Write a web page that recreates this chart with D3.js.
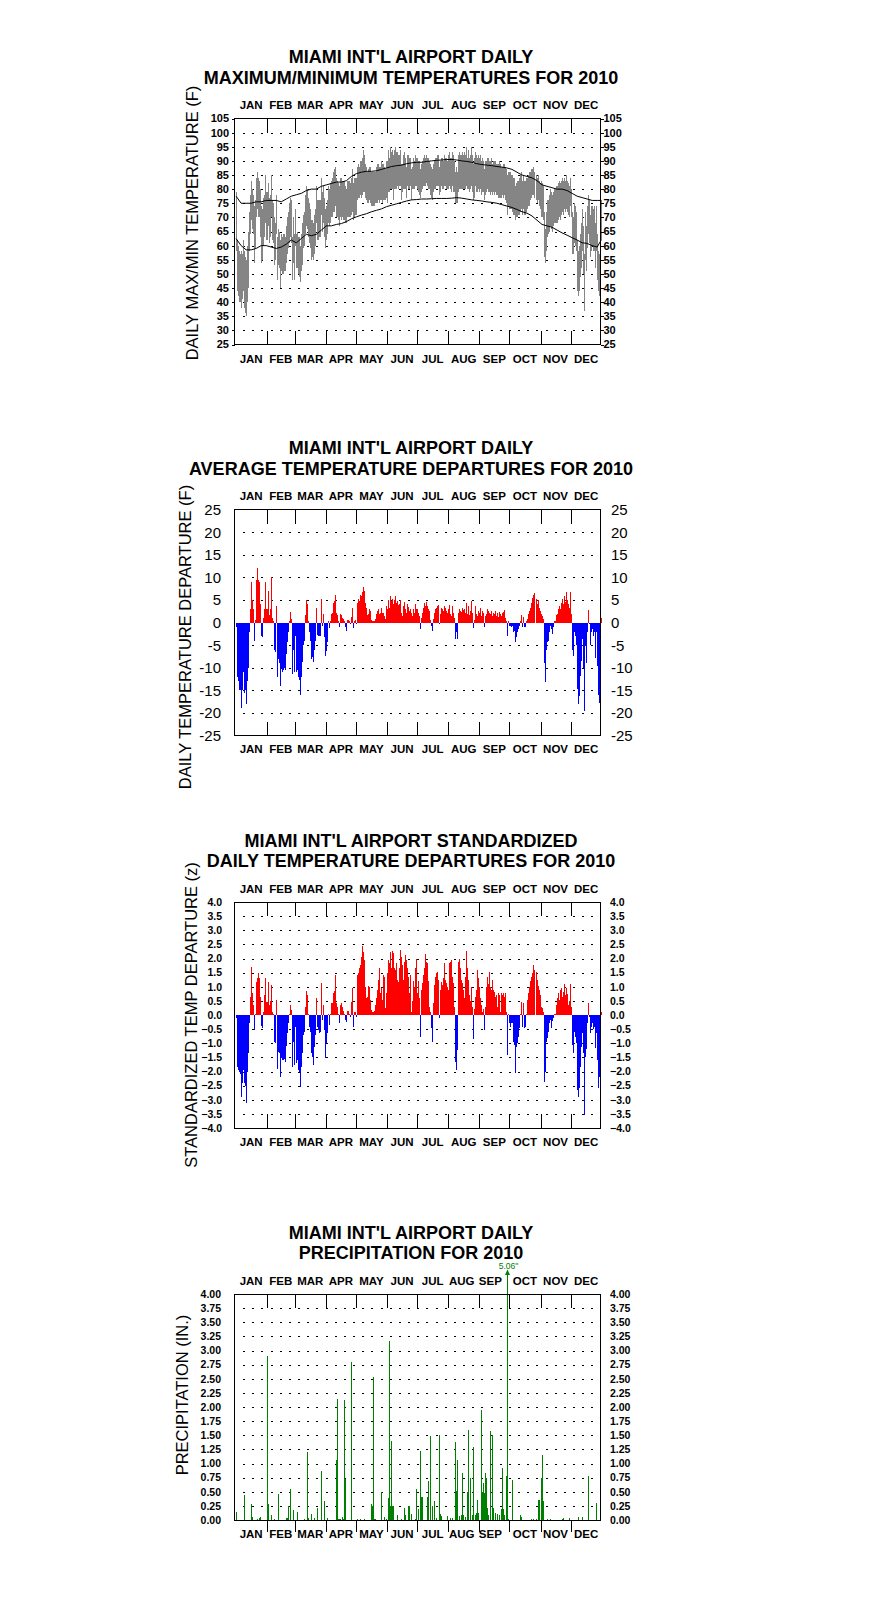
<!DOCTYPE html>
<html><head><meta charset="utf-8">
<script src="https://cdn.jsdelivr.net/npm/d3@7"></script>
<style>
body{margin:0;background:#fff}
svg{display:block}
text{font-family:"Liberation Sans",Arial,Helvetica,sans-serif;fill:#000}
</style>
</head><body>
<svg id="chart" width="876" height="1606"></svg>
<script>
// ---------- categories / ticks ----------
const monthNames = ["JAN","FEB","MAR","APR","MAY","JUN","JUL","AUG","SEP","OCT","NOV","DEC"];
const monthStart = [0,31,59,90,120,151,181,212,243,273,304,334,365];
const tempTicks = [25,30,35,40,45,50,55,60,65,70,75,80,85,90,95,100,105];
const depTicks = [-25,-20,-15,-10,-5,0,5,10,15,20,25];
const zTicks = [-4,-3.5,-3,-2.5,-2,-1.5,-1,-0.5,0,0.5,1,1.5,2,2.5,3,3.5,4];
const precipTicks = [0,0.25,0.5,0.75,1,1.25,1.5,1.75,2,2.25,2.5,2.75,3,3.25,3.5,3.75,4];

// ---------- normals (every 5 days) ----------
const normDays = [0,5,10,15,20,25,30,35,40,45,50,55,60,65,70,75,80,85,90,95,100,105,110,115,120,125,130,135,140,145,150,155,160,165,170,175,180,185,190,195,200,205,210,215,220,225,230,235,240,245,250,255,260,265,270,275,280,285,290,295,300,305,310,315,320,325,330,335,340,345,350,355,360,364];
const normMax = [77.5,75,75,75,75.5,75.5,76,76,76,75.5,76.5,77.5,78,78.5,79.5,80,80,81,81.5,82,82.5,82.5,83,84.5,85.5,86,86.3,86.3,86.5,87,87.5,88,88.3,88.5,89,89.3,89.5,89.5,89.8,90,90.2,90.3,90.5,90.5,90.3,90,89.8,89.5,89,88.7,88.5,88.3,88,87.8,87.5,87,86,85,84.5,84,83,81.5,81,80.5,80,80,79.5,78.5,77.5,77,76.5,76,76,76];
const normMin = [62.5,60,58.5,58.5,59,60,60,59.5,59,59.5,60.5,62,61,62.5,64,63.5,64,65.5,67,67,67.5,67.8,68.5,69.5,70.2,70.8,71.3,72,72.5,73,73.8,74.3,74.8,75.3,75.8,76.2,76.3,76.5,76.5,76.6,76.7,76.7,76.7,76.8,77,76.8,76.5,76.2,76,75.8,75.5,75.3,75,74.5,74,73.5,72.8,72,71.5,70.5,69,67.5,67,66.5,65.5,64.5,63.7,62.8,62,61,60.8,60,59.5,62];

// ---------- daily max / min temperatures (F) ----------
const tMax = [
79,62,60,58,57,58,57,62,58,56,55,60,65,72,78,83,80,78,74,76,84,86,84,83,80,74,73,77,78,85,79,
79,82,77,78,85,76,75,70,68,78,63,66,65,62,64,63,64,64,63,67,70,72,75,77,76,63,70,64,
73,64,65,63,63,60,64,68,71,72,78,81,80,77,75,73,69,69,68,71,73,81,76,76,76,76,84,79,81,77,73,
74,76,81,80,82,83,84,86,87,88,84,83,82,81,84,84,83,83,83,81,80,83,83,83,82,84,87,82,84,84,
84,88,89,88,90,90,91,94,92,89,88,86,87,88,88,86,86,86,86,86,88,89,89,88,88,90,89,89,88,87,90,
90,94,91,95,93,94,92,94,95,93,93,92,92,94,89,89,92,93,91,88,92,92,91,91,87,88,91,90,92,91,
91,90,90,87,89,90,91,92,91,92,91,91,90,89,88,87,89,90,91,91,92,92,88,90,91,91,90,92,91,91,90,
92,93,91,91,93,92,90,86,88,86,92,93,92,92,93,92,93,92,95,91,94,91,92,95,92,89,91,93,92,91,92,
91,92,90,91,90,87,90,90,91,91,90,90,91,89,90,90,90,89,89,89,90,89,88,88,89,89,88,87,85,86,
86,86,85,85,84,84,81,82,83,83,84,85,86,83,85,83,83,84,84,85,86,86,87,87,88,86,85,84,85,83,82,
83,82,81,72,66,72,76,76,78,80,79,78,79,80,80,81,81,82,83,82,83,84,83,84,83,85,83,82,81,84,
80,72,70,75,74,72,62,58,60,64,68,73,67,57,72,67,74,78,76,71,74,74,73,74,68,74,64,58,57,63,76];
const tMin = [
58,44,42,40,40,38,41,44,38,36,35,40,45,58,64,69,66,64,54,59,70,73,70,70,63,54,55,60,63,68,62,
62,67,61,63,70,62,61,53,55,64,48,53,52,45,51,50,50,51,51,54,57,59,61,63,61,48,54,48,
60,52,52,50,49,47,51,53,59,60,64,67,66,63,61,59,55,56,55,57,60,68,62,62,63,63,71,65,68,63,59,
62,64,68,67,68,70,70,72,72,74,70,70,69,67,70,69,70,69,69,68,68,70,70,70,70,71,72,69,70,71,
71,76,77,77,78,77,78,79,79,77,76,75,75,76,75,74,74,74,74,75,75,75,76,75,76,76,75,76,76,76,77,
75,79,79,80,80,80,76,80,80,80,81,80,81,81,76,79,80,80,80,77,81,80,80,81,76,80,80,80,81,81,
80,79,78,77,79,80,81,81,81,82,81,80,80,78,77,76,79,80,80,81,81,81,78,79,81,80,80,81,81,80,80,
80,81,80,79,81,79,79,75,75,75,79,80,80,80,80,80,80,80,81,80,80,79,80,81,79,76,77,81,79,79,80,
79,80,78,79,79,76,78,79,80,79,79,78,79,78,79,78,79,78,78,77,77,77,77,78,77,78,76,75,71,74,
73,73,73,72,71,71,69,70,70,71,71,72,73,71,73,71,71,72,73,74,74,76,77,78,78,77,76,75,76,74,73,
70,70,69,56,54,58,63,64,65,67,66,65,67,68,68,68,68,69,70,69,71,72,71,73,72,73,72,71,70,74,
70,57,57,61,60,58,44,42,44,49,52,58,50,37,55,51,59,64,61,56,58,60,58,58,52,58,48,44,42,50,62];

// ---------- daily average temperature departures (F) ----------
const depF = [
-1,-12,-13,-15,-15,-19,-15,-11,-15.5,-15,-18,-13,-10,-2,3,9,5,3,-4,0.5,9.5,12,9.5,9,4,-3,-3.3,1,3,9,3,
3,7,1.6,3,10,1,0.3,-6,-6.5,3.7,-12,-8,-9,-14,-10,-11,-10.5,-10,-10.5,-7,-4.3,-2,0.3,2.4,0.7,-11.5,-6,-11,
-3,-11,-10.5,-12,-12.7,-16,-12,-8.8,-5,-4,1.6,5,4,0.3,-2.2,-4,-8,-7.7,-8.7,-6,-4,3.3,-2.8,-3,-3,-3,5.3,-0.7,1.8,-3.3,-7.4,
-6.3,-4.4,0.3,-1.3,0.3,1.8,2.2,4.4,4.8,6,2.2,1.6,0.3,-1.1,1.8,1.6,1.1,0.7,0.3,-1,-1.9,0.6,0.6,0.3,-0.4,1.3,3.3,-1.3,0.3,0.5,
-0.4,4.4,5.3,4.8,6,5.8,6.7,7.8,7,4.4,3.3,1.6,1.8,3,2.6,0.6,0.3,0.3,0.3,0.7,1.8,2.6,3,1.8,2.2,3.3,2,2.2,1.5,0.7,3.7,
3,5,3.3,5.8,4.8,5.3,4,5,5.8,4.4,4.8,3.8,4,5,2.2,1.5,3.7,4.5,3,2,4,3.5,2.5,3,2,1.5,3,2,4,3,
3,2,1.5,-1.5,1,2.2,3.3,4.4,3.7,4.6,3.7,3,2.6,0.5,-0.7,-1.8,0.7,2.2,3,3.3,3.7,3.9,-0.4,1.8,3.3,3,2.6,3.7,3.2,2.6,2.2,
3,3.9,1.8,1.5,3.7,2,1,-3.7,-2,-3.7,2.2,3,2.6,2.4,3.3,2.8,3,2.2,4.4,1.8,3.7,1.6,2.5,4.8,2,-1.3,0.5,3.7,1.8,1.5,2.6,
2.2,3.1,1.5,2.5,2,-1,1.5,1.8,3,2.6,2.2,1.8,2.6,1.5,2.2,1.8,2.6,1.5,2,1.3,2.3,1.8,1.5,2,2.4,2.8,1,0.3,-3,0.3,
-0.7,-0.7,-1,-0.7,-2.2,-1.9,-4.4,-3.3,-2.2,-1.5,-0.7,0.3,1.6,-1.1,1.3,-1.1,-0.9,0.3,0.7,1.8,2.6,3.3,4.4,5.5,6,6.5,5.2,4,5,3.3,2.6,
1.8,1.5,0.7,-8.9,-13.2,-6,-4.4,-4,-2.2,-0.7,-1.5,-2.6,-1,0.3,0.3,1.6,1.8,2.9,3.7,2.9,4.4,5.2,4.1,5.9,4.5,6.8,5,4,3.3,6.8,
1.8,-6,-7.4,-2.2,-3,-5,-14.8,-18,-16.3,-11.8,-8.5,-3.7,-10,-19.6,-5.2,-9,-2,2.8,-0.4,-5,-2.2,-1.5,-3,-2.2,-7.8,-2,-9.6,-16,-17.8,-10,1];

// ---------- standardized departures (z) ----------
const depZ = [
-0.12,-1.83,-1.95,-2.0,-2.1,-2.9,-2.4,-1.95,-2.4,-2.5,-3.1,-2.0,-1.36,-0.3,0.65,1.7,0.77,0.35,-0.53,0.05,1.18,1.3,1.5,1.3,0.65,-0.4,-0.47,0.12,0.7,1.3,0.47,
0.47,1.18,0.35,0.5,1.06,0.12,0.05,-0.94,-1.0,0.53,-1.9,-1.3,-1.36,-2.2,-1.53,-1.6,-1.6,-1.55,-1.65,-1.1,-0.65,-0.3,0.05,0.35,0.18,-1.83,-0.94,-1.77,
-0.41,-1.7,-1.6,-1.95,-2.0,-2.54,-1.83,-1.36,-0.71,-0.6,0.27,0.85,0.71,0.05,-0.41,-0.59,-1.36,-1.47,-1.77,-1.12,-0.7,0.59,-0.41,-0.53,-0.63,-0.6,1.15,-0.18,0.35,-0.53,-1.53,
-1.0,-0.65,0.05,-0.35,0.05,0.44,0.41,0.77,0.85,1.42,0.41,0.3,0.05,-0.3,0.35,0.44,0.3,0.15,0.05,-0.18,-0.24,0.15,0.15,0.05,-0.06,0.47,0.94,-0.41,0.12,0.12,
-0.08,1.42,1.47,1.65,1.77,2.06,2.44,2.24,1.95,1.0,0.59,0.65,1.03,0.98,0.53,0.18,0.1,0.1,0.15,0.35,0.59,0.88,1.24,1.65,0.77,0.94,0.53,1.42,1.36,0.24,0.77,
1.47,1.95,1.83,2.24,1.65,2.28,2.18,1.65,1.59,1.83,1.24,1.18,1.65,2.3,2.06,1.77,1.24,1.89,2.12,1.95,1.65,1.36,0.77,1.42,0.12,0.5,1.2,1.0,1.65,2.0,
0.77,1.2,0.6,-0.77,0.9,1.12,1.41,1.65,2.16,1.89,1.83,1.2,0.3,0.1,-0.47,-0.94,0.41,1.06,1.36,1.47,1.53,1.24,-0.12,0.88,1.18,1.06,1.3,1.83,1.24,1.12,1.0,
0.88,1.83,1.89,1.95,1.36,1.12,0.3,-1.65,-1.95,-1.24,1.89,2.0,1.65,1.24,1.12,0.88,0.59,1.36,2.28,1.65,1.24,0.71,0.5,1.0,0.3,-0.86,0.2,0.65,0.88,1.6,1.3,
1.0,0.59,0.35,0.1,0.2,-0.53,0.3,1.0,1.36,1.1,1.53,1.0,0.88,1.24,0.88,0.83,0.65,0.71,0.3,0.77,0.71,0.12,0.77,0.71,0.77,0.65,0.77,0.1,-1.42,0.05,
-0.3,-0.41,-0.3,-0.3,-0.94,-1.06,-2.06,-1.12,-1.0,-0.77,-0.47,0.05,0.47,-0.41,0.44,-0.47,-0.41,0.05,0.53,0.77,1.0,1.2,1.36,1.5,1.77,1.59,1.53,1.24,1.03,0.88,0.71,
0.3,0.24,0.1,-2.36,-2.0,-0.94,-0.83,-0.59,-0.3,-0.18,-0.47,-0.2,-0.1,0.05,0.05,0.35,0.59,0.77,0.53,0.88,0.94,0.65,0.83,1.1,0.7,0.94,0.75,0.35,0.5,1.1,
0.3,-1.06,-1.36,-0.59,-0.77,-1.0,-2.65,-2.89,-2.6,-1.83,-1.12,-0.65,-1.36,-3.54,-1.47,-1.2,-0.3,0.41,-0.06,-0.65,-0.41,-0.3,-0.5,-0.41,-1.18,-0.65,-1.6,-2.6,-2.2,-1.65,0.12];

// ---------- precipitation (day of year index, inches) ----------
const precipDay = [0,8,15,16,21,23,24, 31,32,35,38,42,50,51,52,54,57, 61,68,71,72,75,78,81,85,88,
 91,100,101,102,103,104,106,107,108,109,115, 121,124,128,135,136,137,138,139,145,148,150,
 152,153,154,155,156,157,161,165,168,169,172,173,175,179,180,
 182,184,185,186,191,192,194,196,198,200,203,204,205,211,
 214,216,219,220,221,223,225,226,227,229,231,232,234,236,237,239,240,241,242,
 245,246,247,248,249,250,251,252,254,256,257,259,261,263,265,266,267,268,270,271,
 272,276,284,285,295,297,299,301,302,304,305,306, 310,313,325,326,332, 341,345,351,359];
const precipIn = [0.15,0.44,0.28,0.05,0.02,0.03,0.05, 2.9,0.28,0.09,0.01,0.46,0.03,0.03,0.24,0.55,0.17, 0.15,0.02,1.2,0.03,0.1,0.03,0.22,0.86,0.34,
 0.03,1.06,2.14,0.02,0.02,0.02,0.05,0.02,2.12,0.73,2.8, 0.01,0.02,0.02,0.28,0.25,2.53,0.02,0.02,0.5,0.05,0.02,
 0.39,3.17,0.24,1.39,0.24,0.24,0.09,0.02,0.22,0.09,0.25,0.25,0.1,0.02,0.54,
 0.2,1.22,0.4,0.4,0.4,0.69,1.49,0.24,0.34,0.03,1.5,0.1,0.07,0.07,
 0.03,0.03,1.38,0.52,1.06,0.07,0.09,0.83,0.09,0.06,0.5,1.6,0.74,0.09,1.29,0.09,0.13,0.35,0.13,
 1.95,0.5,0.66,0.47,0.83,0.74,0.21,0.09,1.58,1.5,0.21,0.12,0.1,0.09,0.2,0.92,0.2,0.09,0.78,5.06,
 0.02,0.71,0.09,0.05,0.02,0.02,0.02,0.35,0.35,0.74,1.15,0.34, 0.02,0.02,0.02,0.04,0.04, 0.05,0.06,0.77,0.3];

// ---------- drawing ----------
const svg = d3.select("#chart");
const x = d3.scaleLinear().domain([0, 365]).range([235.6, 601.7]);
const plotL = 234.5, plotR = 600.5;
const dayIdx = d3.range(tMax.length);

function drawPanel(p) {
  const g = svg.append("g");
  const y = d3.scaleLinear().domain(p.domain).range([p.bottom, p.top]);

  g.selectAll("text.title").data(p.title).join("text")
    .attr("class", "title")
    .attr("x", 411).attr("y", (d, i) => p.top - 55.5 + i * 20.5)
    .attr("text-anchor", "middle").attr("font-size", 18).attr("font-weight", "bold")
    .text(d => d);

  const mData = monthNames.map((m, i) => ({m, c: x((monthStart[i] + monthStart[i + 1]) / 2) + (p.monthShift ? (p.monthShift[i] || 0) : 0)}));
  [p.top - 9.5, p.bottom + p.bottomMonthOff].forEach(yy => {
    g.append("g").selectAll("text").data(mData).join("text")
      .attr("x", d => d.c).attr("y", yy)
      .attr("text-anchor", "middle").attr("font-size", 11.5).attr("font-weight", "bold")
      .text(d => d.m);
  });

  g.selectAll("line.grid").data(p.grid).join("line")
    .attr("class", "grid")
    .attr("x1", 243).attr("x2", 600)
    .attr("y1", d => Math.round(y(d)) + 0.5).attr("y2", d => Math.round(y(d)) + 0.5)
    .attr("stroke", "#000").attr("stroke-width", 1)
    .attr("stroke-dasharray", "2,7.17").attr("shape-rendering", "crispEdges");

  p.draw(g, y);

  g.append("rect")
    .attr("x", plotL).attr("y", p.top).attr("width", plotR - plotL).attr("height", p.bottom - p.top)
    .attr("fill", "none").attr("stroke", "#000").attr("stroke-width", 1).attr("shape-rendering", "crispEdges");

  const inner = monthStart.slice(1, 12);
  g.selectAll("line.mt").data(inner).join("line")
    .attr("x1", d => Math.round(x(d)) + 0.5).attr("x2", d => Math.round(x(d)) + 0.5)
    .attr("y1", p.top).attr("y2", p.top + 14)
    .attr("stroke", "#000").attr("shape-rendering", "crispEdges");
  g.selectAll("line.mb").data(inner).join("line")
    .attr("x1", d => Math.round(x(d)) + 0.5).attr("x2", d => Math.round(x(d)) + 0.5)
    .attr("y1", p.bottom).attr("y2", p.bottom + (p.bottomTicksOut ? 12 : -14))
    .attr("stroke", "#000").attr("shape-rendering", "crispEdges");

  if (p.sideTicks) {
    g.selectAll("line.st").data(p.ticks).join("line")
      .attr("x1", plotR).attr("x2", plotR + 3)
      .attr("y1", d => Math.round(y(d)) + 0.5).attr("y2", d => Math.round(y(d)) + 0.5)
      .attr("stroke", "#000").attr("shape-rendering", "crispEdges");
    g.selectAll("line.st2").data(p.ticks).join("line")
      .attr("x1", plotL - 3).attr("x2", plotL)
      .attr("y1", d => Math.round(y(d)) + 0.5).attr("y2", d => Math.round(y(d)) + 0.5)
      .attr("stroke", "#000").attr("shape-rendering", "crispEdges");
  }

  g.selectAll("text.yl").data(p.ticks).join("text")
    .attr("x", p.leftX).attr("y", d => y(d)).attr("dy", "0.36em")
    .attr("text-anchor", "end").attr("font-size", p.labelSize).attr("font-weight", p.labelWeight)
    .text(p.fmt);
  g.selectAll("text.yr").data(p.ticks).join("text")
    .attr("x", p.rightX).attr("y", d => y(d)).attr("dy", "0.36em")
    .attr("text-anchor", "start").attr("font-size", p.labelSize).attr("font-weight", p.labelWeight)
    .text(p.fmt);

  g.append("text")
    .attr("transform", `translate(${p.ytX},${p.ytY}) rotate(-90)`)
    .attr("text-anchor", "middle").attr("dy", "0.36em")
    .attr("font-size", 16.5)
    .text(p.ytitle);
}

// Panel 1: max/min temperatures
drawPanel({
  top: 118.5, bottom: 344.5, domain: [25, 105], bottomMonthOff: 18,
  title: ["MIAMI INT'L AIRPORT DAILY", "MAXIMUM/MINIMUM TEMPERATURES FOR 2010"],
  grid: tempTicks.slice(1, -1), ticks: tempTicks, fmt: d => d,
  labelSize: 11, labelWeight: "bold", leftX: 229, rightX: 603.5, sideTicks: true,
  ytitle: "DAILY MAX/MIN TEMPERATURE (F)", ytX: 191.6, ytY: 223,
  draw: (g, y) => {
    g.selectAll("rect.tm").data(dayIdx).join("rect")
      .attr("x", d => Math.round(x(d))).attr("width", 1)
      .attr("y", d => y(tMax[d])).attr("height", d => y(tMin[d]) - y(tMax[d]))
      .attr("fill", "#858585").attr("shape-rendering", "crispEdges");
    const line = d3.line().x((d, i) => x(normDays[i]) + 0.5).y(d => y(d));
    g.append("path").attr("d", line(normMax)).attr("fill", "none").attr("stroke", "#000").attr("stroke-width", 1);
    g.append("path").attr("d", line(normMin)).attr("fill", "none").attr("stroke", "#000").attr("stroke-width", 1);
  }
});

// Panel 2: departures (F)
drawPanel({
  top: 509.5, bottom: 735.5, domain: [-25, 25], bottomMonthOff: 17.5,
  title: ["MIAMI INT'L AIRPORT DAILY", "AVERAGE TEMPERATURE DEPARTURES FOR 2010"],
  grid: depTicks.slice(1, -1).filter(d => d !== 0), ticks: depTicks, fmt: d => d,
  labelSize: 15, labelWeight: "normal", leftX: 221, rightX: 611,
  ytitle: "DAILY TEMPERATURE DEPARTURE (F)", ytX: 185.5, ytY: 637,
  draw: (g, y) => {
    g.selectAll("rect.dp").data(depF.map((v, i) => ({v, i}))).join("rect")
      .attr("x", d => Math.round(x(d.i))).attr("width", 1)
      .attr("y", d => Math.min(y(0), y(d.v))).attr("height", d => Math.abs(y(d.v) - y(0)))
      .attr("fill", d => d.v >= 0 ? "#ff0000" : "#0000ff").attr("shape-rendering", "crispEdges");
  }
});

// Panel 3: standardized departures
drawPanel({
  top: 902, bottom: 1128, domain: [-4, 4], bottomMonthOff: 18,
  title: ["MIAMI INT'L AIRPORT STANDARDIZED", "DAILY TEMPERATURE DEPARTURES FOR 2010"],
  grid: zTicks.slice(1, -1).filter(d => d !== 0), ticks: zTicks, fmt: d => d3.format(".1f")(d),
  labelSize: 10.5, labelWeight: "bold", leftX: 222, rightX: 610,
  ytitle: "STANDARDIZED TEMP DEPARTURE (z)", ytX: 190.6, ytY: 1015,
  draw: (g, y) => {
    g.selectAll("rect.zp").data(depZ.map((v, i) => ({v, i}))).join("rect")
      .attr("x", d => Math.round(x(d.i))).attr("width", 1)
      .attr("y", d => Math.min(y(0), y(d.v))).attr("height", d => Math.abs(y(d.v) - y(0)))
      .attr("fill", d => d.v >= 0 ? "#ff0000" : "#0000ff").attr("shape-rendering", "crispEdges");
  }
});

// Panel 4: precipitation
drawPanel({
  top: 1294, bottom: 1520, domain: [0, 4], bottomMonthOff: 18, bottomTicksOut: true,
  monthShift: [0,0,0,0,0,0,0,-2,-4,0,0,0],
  title: ["MIAMI INT'L AIRPORT DAILY", "PRECIPITATION FOR 2010"],
  grid: precipTicks.slice(1, -1), ticks: precipTicks, fmt: d => d3.format(".2f")(d),
  labelSize: 10.5, labelWeight: "bold", leftX: 221, rightX: 610,
  ytitle: "PRECIPITATION (IN.)", ytX: 182.4, ytY: 1395,
  draw: (g, y) => {
    const pd = precipDay.map((d, i) => ({d, v: precipIn[i]}));
    g.selectAll("rect.pr").data(pd).join("rect")
      .attr("x", d => Math.round(x(d.d))).attr("width", 1)
      .attr("y", d => Math.min(y(0) - 1, y(Math.min(d.v, 4))))
      .attr("height", d => Math.max(1, y(0) - y(Math.min(d.v, 4))))
      .attr("fill", "#008000").attr("shape-rendering", "crispEdges");
    const big = pd.filter(d => d.v > 4);
    big.forEach(b => {
      const bx = Math.round(x(b.d)) + 0.5;
      g.append("line").attr("x1", bx).attr("x2", bx).attr("y1", y(4)).attr("y2", 1272)
        .attr("stroke", "#008000").attr("stroke-width", 1);
      g.append("path").attr("d", `M${bx},1269.5 L${bx - 2.5},1275 L${bx + 2.5},1275 Z`).attr("fill", "#008000");
      g.append("text").attr("x", bx + 1).attr("y", 1269).attr("text-anchor", "middle")
        .attr("font-size", 8.5).style("fill", "#008000").text(d3.format(".2f")(b.v) + "\"");
    });
  }
});
</script>
</body></html>
